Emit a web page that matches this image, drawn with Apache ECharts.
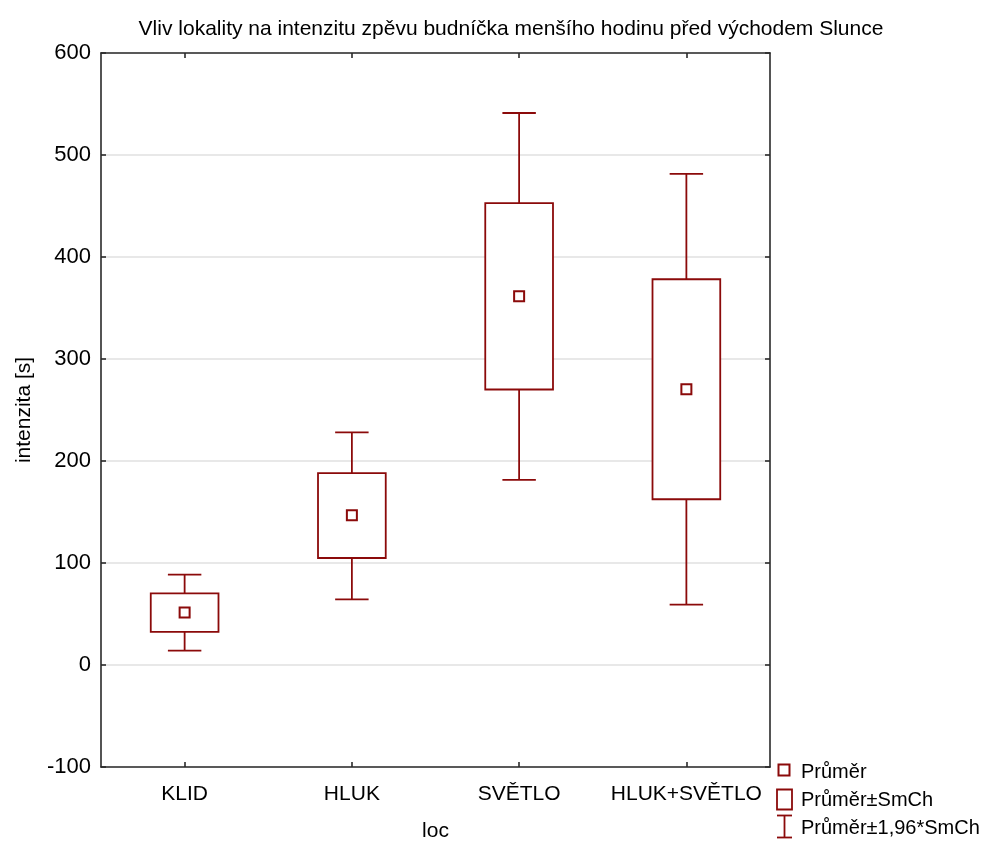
<!DOCTYPE html>
<html>
<head>
<meta charset="utf-8">
<script src="https://cdn.jsdelivr.net/npm/echarts@6/dist/echarts.min.js"></script>
<style>
  html, body { margin: 0; padding: 0; background: #fff; }
  #chart { width: 992px; height: 843px; }
</style>
</head>
<body>
<div id="chart"></div>
<script>
// Singing intensity by locality: mean, mean ± SE, mean ± 1.96·SE
const categories = ['KLID', 'HLUK', 'SVĚTLO', 'HLUK+SVĚTLO'];
const means  = [51.4, 146.8, 361.5, 270.3];
const seLow  = [32.4, 104.9, 270.1, 162.5];
const seHigh = [70.3, 188.2, 452.9, 378.2];
const ciLow  = [14.1, 64.4, 181.5, 59.2];
const ciHigh = [88.6, 228.1, 541.2, 481.5];
const yMin = -100, yMax = 600, yStep = 100;

const RED = '#8b0a0a';
const FONT = 'Liberation Sans, Arial, sans-serif';
const LW = 1.8;

const rows = categories.map((c, i) => [i, means[i], seLow[i], seHigh[i], ciLow[i], ciHigh[i]]);

function whiskerItem(params, api) {
  const i = api.value(0);
  const band = api.size([1, 0])[0];
  const cap = band * 0.2;
  const pTop = api.coord([i, api.value(5)]);
  const pBoxT = api.coord([i, api.value(3)]);
  const pBoxB = api.coord([i, api.value(2)]);
  const pBot = api.coord([i, api.value(4)]);
  const x = pTop[0];
  const st = { stroke: RED, lineWidth: LW };
  return {
    type: 'group',
    children: [
      { type: 'line', shape: { x1: x, y1: pTop[1], x2: x, y2: pBoxT[1] }, style: st },
      { type: 'line', shape: { x1: x, y1: pBoxB[1], x2: x, y2: pBot[1] }, style: st },
      { type: 'line', shape: { x1: x - cap / 2, y1: pTop[1], x2: x + cap / 2, y2: pTop[1] }, style: st },
      { type: 'line', shape: { x1: x - cap / 2, y1: pBot[1], x2: x + cap / 2, y2: pBot[1] }, style: st }
    ]
  };
}

function boxItem(params, api) {
  const i = api.value(0);
  const band = api.size([1, 0])[0];
  const w = band * 0.405;
  const pT = api.coord([i, api.value(3)]);
  const pB = api.coord([i, api.value(2)]);
  return {
    type: 'rect',
    shape: { x: pT[0] - w / 2, y: pT[1], width: w, height: pB[1] - pT[1] },
    style: { fill: '#fff', stroke: RED, lineWidth: LW }
  };
}

function meanItem(params, api) {
  const i = api.value(0);
  const p = api.coord([i, api.value(1)]);
  const s = 10;
  return {
    type: 'rect',
    shape: { x: p[0] - s / 2, y: p[1] - s / 2, width: s, height: s },
    style: { fill: '#fff', stroke: RED, lineWidth: 2 }
  };
}

const axisLineStyle = { color: '#2a2a2a', width: 1.6 };

const chart = echarts.init(document.getElementById('chart'), null, { renderer: 'canvas' });

// Legend drawn as graphic elements at the lower right
const LX = 777, legendText = { fill: '#000', font: '20px ' + FONT };
const legendGraphics = [
  { type: 'rect', shape: { x: LX + 1.5, y: 764.5, width: 11, height: 11 }, style: { fill: '#fff', stroke: RED, lineWidth: 2 } },
  { type: 'text', x: 801, y: 772, style: Object.assign({ text: 'Průměr', textVerticalAlign: 'middle' }, legendText) },
  { type: 'rect', shape: { x: LX, y: 789.5, width: 15, height: 20 }, style: { fill: '#fff', stroke: RED, lineWidth: LW } },
  { type: 'text', x: 801, y: 800, style: Object.assign({ text: 'Průměr±SmCh', textVerticalAlign: 'middle' }, legendText) },
  { type: 'line', shape: { x1: LX, y1: 815.5, x2: LX + 15, y2: 815.5 }, style: { stroke: RED, lineWidth: LW } },
  { type: 'line', shape: { x1: LX + 7.5, y1: 815.5, x2: LX + 7.5, y2: 837.5 }, style: { stroke: RED, lineWidth: LW } },
  { type: 'line', shape: { x1: LX, y1: 837.5, x2: LX + 15, y2: 837.5 }, style: { stroke: RED, lineWidth: LW } },
  { type: 'text', x: 801, y: 828, style: Object.assign({ text: 'Průměr±1,96*SmCh', textVerticalAlign: 'middle' }, legendText) }
];

chart.setOption({
  animation: false,
  backgroundColor: '#fff',
  title: {
    text: 'Vliv lokality na intenzitu zpěvu budníčka menšího hodinu před východem Slunce',
    left: 506,
    top: 14,
    textAlign: 'center',
    textStyle: { fontFamily: FONT, fontSize: 21, fontWeight: 'normal', color: '#000' }
  },
  grid: { left: 101, right: 222, top: 53, bottom: 76, containLabel: false, outerBoundsMode: 'none' },
  xAxis: [
    {
      type: 'category', data: categories, position: 'bottom', boundaryGap: true,
      name: 'loc', nameLocation: 'middle', nameGap: 54,
      nameTextStyle: { fontFamily: FONT, fontSize: 21, color: '#000' },
      axisLine: { show: true, onZero: false, lineStyle: axisLineStyle },
      axisTick: { show: true, inside: true, alignWithLabel: true, interval: 0, length: 5, lineStyle: axisLineStyle },
      axisLabel: { fontFamily: FONT, fontSize: 21, color: '#000', margin: 17, interval: 0 },
      splitLine: { show: false }
    },
    {
      type: 'category', data: categories, position: 'top', boundaryGap: true,
      axisLine: { show: true, onZero: false, lineStyle: axisLineStyle },
      axisTick: { show: true, inside: true, alignWithLabel: true, interval: 0, length: 5, lineStyle: axisLineStyle },
      axisLabel: { show: false, interval: 0 },
      splitLine: { show: false }
    }
  ],
  yAxis: [
    {
      type: 'value', position: 'left', min: yMin, max: yMax, interval: yStep,
      name: 'intenzita [s]', nameLocation: 'middle', nameGap: 66, nameRotate: 90,
      nameTextStyle: { fontFamily: FONT, fontSize: 21, color: '#000' },
      axisLine: { show: true, onZero: false, lineStyle: axisLineStyle },
      axisTick: { show: true, inside: true, length: 5, lineStyle: axisLineStyle },
      axisLabel: { fontFamily: FONT, fontSize: 22, color: '#000', margin: 10 },
      splitLine: { show: true, lineStyle: { color: '#e0e0e0', width: 1.5 } }
    },
    {
      type: 'value', position: 'right', min: yMin, max: yMax, interval: yStep,
      axisLine: { show: true, onZero: false, lineStyle: axisLineStyle },
      axisTick: { show: true, inside: true, length: 5, lineStyle: axisLineStyle },
      axisLabel: { show: false },
      splitLine: { show: false }
    }
  ],
  series: [
    { name: 'Průměr±1,96*SmCh', type: 'custom', renderItem: whiskerItem, data: rows, z: 3,
      encode: { x: 0, y: [4, 5] } },
    { name: 'Průměr±SmCh', type: 'custom', renderItem: boxItem, data: rows, z: 4,
      encode: { x: 0, y: [2, 3] } },
    { name: 'Průměr', type: 'custom', renderItem: meanItem, data: rows, z: 5,
      encode: { x: 0, y: 1 } }
  ],
  graphic: legendGraphics
});
</script>
</body>
</html>
